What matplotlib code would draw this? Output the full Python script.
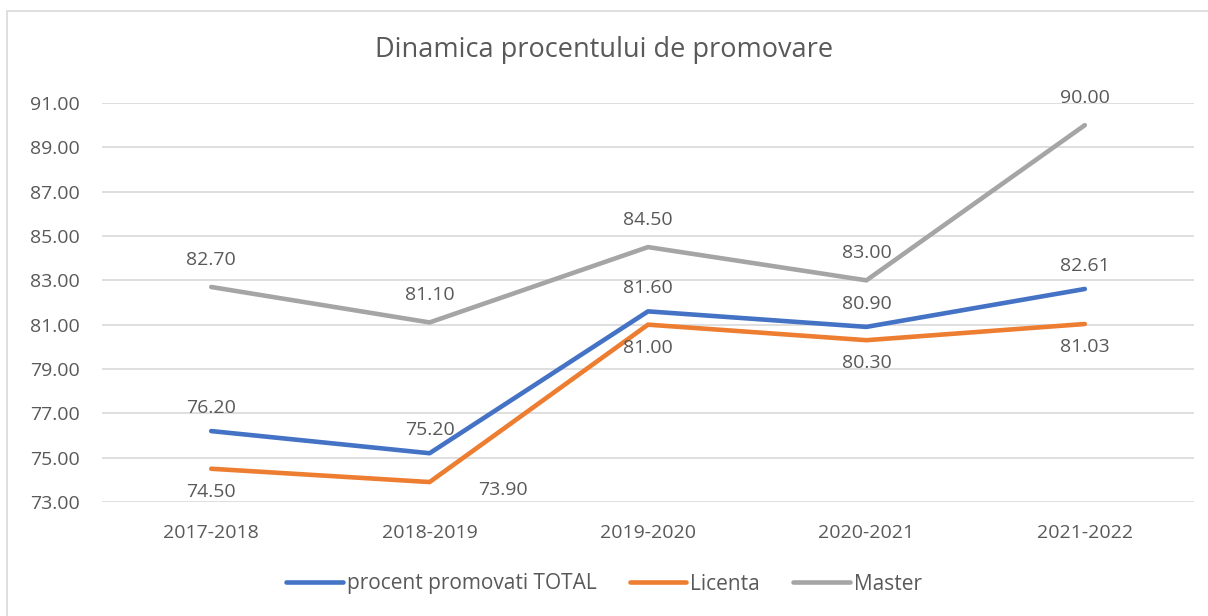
import matplotlib.pyplot as plt
from matplotlib.patches import Rectangle

# datele graficului
ani = ["2017-2018", "2018-2019", "2019-2020", "2020-2021", "2021-2022"]
total = [76.20, 75.20, 81.60, 80.90, 82.61]
licenta = [74.50, 73.90, 81.00, 80.30, 81.03]
master = [82.70, 81.10, 84.50, 83.00, 90.00]

serii = ["procent promovati TOTAL", "Licenta", "Master"]
culori = ["#4472C4", "#ED7D31", "#A5A5A5"]
text_gri = "#595959"
fs = 14

plt.rcParams['font.family'] = ['Open Sans', 'DejaVu Sans']

fig = plt.figure(figsize=(12.08, 6.16), dpi=100)
ax = fig.add_axes([102 / 1208, 1 - 502 / 616, 1092 / 1208, 399 / 616])

# chenarul graficului
fig.patches.append(Rectangle((7 / 1208, -0.1), 1.2, 1 - 11 / 616 + 0.1,
                             transform=fig.transFigure, fill=False,
                             edgecolor="#D9D9D9", linewidth=1.2))

x = list(range(len(ani)))
for valori, nume, c in zip([total, licenta, master], serii, culori):
    ax.plot(x, valori, color=c, linewidth=3.3, label=nume,
            solid_capstyle='round', solid_joinstyle='round')

# etichete de date
for i, v in enumerate(master):
    ax.annotate(f"{v:.2f}", (i, v), xytext=(0, 13), textcoords="offset points",
                ha="center", va="bottom", fontsize=fs, color=text_gri)
for i, v in enumerate(total):
    ax.annotate(f"{v:.2f}", (i, v), xytext=(0, 10), textcoords="offset points",
                ha="center", va="bottom", fontsize=fs, color=text_gri)
for i, v in enumerate(licenta):
    if i == 1:
        ax.annotate(f"{v:.2f}", (i, v), xytext=(35, -6), textcoords="offset points",
                    ha="left", va="center", fontsize=fs, color=text_gri)
    else:
        ax.annotate(f"{v:.2f}", (i, v), xytext=(0, -10), textcoords="offset points",
                    ha="center", va="top", fontsize=fs, color=text_gri)

ax.set_xlim(-0.5, len(ani) - 0.5)
ax.set_ylim(73, 91)
ax.set_yticks(range(73, 92, 2))
ax.set_yticklabels([f"{t:.2f}" for t in range(73, 92, 2)])
ax.set_xticks(x)
ax.set_xticklabels(ani)
ax.tick_params(axis='both', length=0, labelsize=fs, colors=text_gri)
ax.tick_params(axis='x', pad=16)
ax.tick_params(axis='y', pad=16)
ax.grid(axis='y', color="#D9D9D9", linewidth=1.2)
ax.set_axisbelow(True)
for s in ax.spines.values():
    s.set_visible(False)

fig.text(0.5, 1 - 50 / 616, "Dinamica procentului de promovare", ha="center",
         va="center", fontsize=19.5, color=text_gri)

fig.legend(loc="center", bbox_to_anchor=(0.5, 1 - 584 / 616), ncol=3,
           frameon=False, fontsize=15, labelcolor=text_gri,
           handlelength=2.7, handletextpad=0.2, columnspacing=1.6)

fig.savefig("out.png", dpi=100)
